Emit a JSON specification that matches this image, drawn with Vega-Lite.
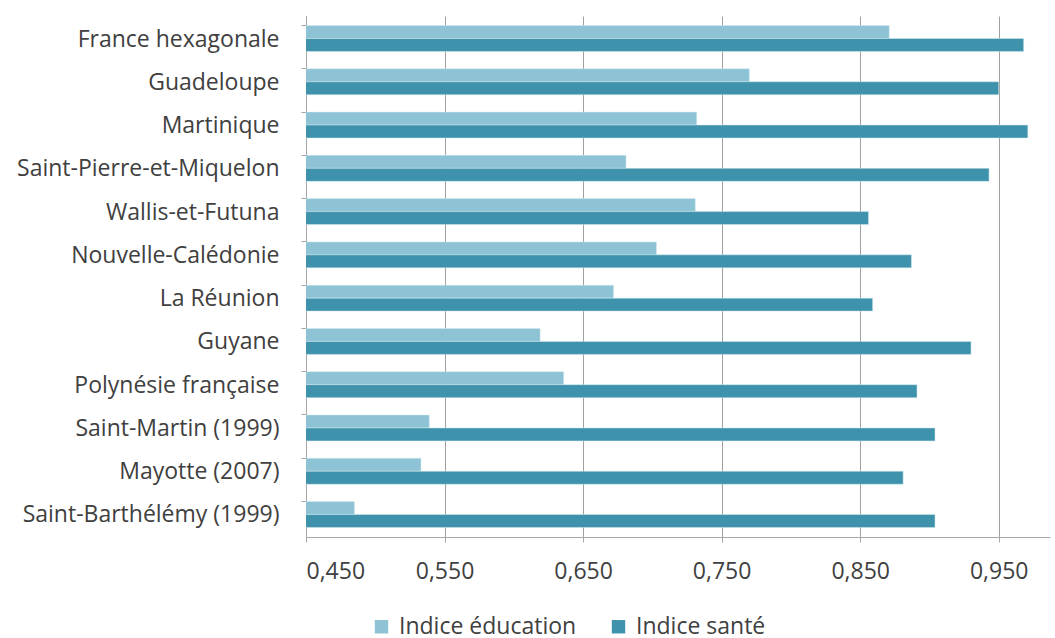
{
  "$schema": "https://vega.github.io/schema/vega-lite/v6.json",
  "width": 744,
  "height": 521,
  "autosize": {"type": "none"},
  "padding": {"left": 306, "top": 16, "right": 5, "bottom": 101},
  "background": "white",
  "config": {
    "locale": {"number": {"decimal": ",", "thousands": " ", "grouping": [3], "currency": ["", " €"]}},
    "view": {"stroke": null},
    "font": "Open Sans"
  },
  "data": {
    "values": [
      {"territoire": "France hexagonale", "indice": "Indice éducation", "valeur": 0.871},
      {"territoire": "France hexagonale", "indice": "Indice santé", "valeur": 0.968},
      {"territoire": "Guadeloupe", "indice": "Indice éducation", "valeur": 0.770},
      {"territoire": "Guadeloupe", "indice": "Indice santé", "valeur": 0.950},
      {"territoire": "Martinique", "indice": "Indice éducation", "valeur": 0.732},
      {"territoire": "Martinique", "indice": "Indice santé", "valeur": 0.971},
      {"territoire": "Saint-Pierre-et-Miquelon", "indice": "Indice éducation", "valeur": 0.681},
      {"territoire": "Saint-Pierre-et-Miquelon", "indice": "Indice santé", "valeur": 0.943},
      {"territoire": "Wallis-et-Futuna", "indice": "Indice éducation", "valeur": 0.731},
      {"territoire": "Wallis-et-Futuna", "indice": "Indice santé", "valeur": 0.856},
      {"territoire": "Nouvelle-Calédonie", "indice": "Indice éducation", "valeur": 0.703},
      {"territoire": "Nouvelle-Calédonie", "indice": "Indice santé", "valeur": 0.887},
      {"territoire": "La Réunion", "indice": "Indice éducation", "valeur": 0.672},
      {"territoire": "La Réunion", "indice": "Indice santé", "valeur": 0.859},
      {"territoire": "Guyane", "indice": "Indice éducation", "valeur": 0.619},
      {"territoire": "Guyane", "indice": "Indice santé", "valeur": 0.930},
      {"territoire": "Polynésie française", "indice": "Indice éducation", "valeur": 0.636},
      {"territoire": "Polynésie française", "indice": "Indice santé", "valeur": 0.891},
      {"territoire": "Saint-Martin (1999)", "indice": "Indice éducation", "valeur": 0.539},
      {"territoire": "Saint-Martin (1999)", "indice": "Indice santé", "valeur": 0.904},
      {"territoire": "Mayotte (2007)", "indice": "Indice éducation", "valeur": 0.533},
      {"territoire": "Mayotte (2007)", "indice": "Indice santé", "valeur": 0.881},
      {"territoire": "Saint-Barthélémy (1999)", "indice": "Indice éducation", "valeur": 0.485},
      {"territoire": "Saint-Barthélémy (1999)", "indice": "Indice santé", "valeur": 0.904}
    ]
  },
  "mark": {"type": "bar", "clip": true, "stroke": "#d4eaf1", "strokeWidth": 0.5},
  "encoding": {
    "y": {
      "field": "territoire",
      "type": "nominal",
      "sort": null,
      "title": null,
      "scale": {"paddingInner": 0.4, "paddingOuter": 0.22},
      "axis": {
        "bandPosition": 0,
        "domainColor": "#a6a6a6",
        "tickColor": "#a6a6a6",
        "tickSize": 5,
        "labelFontSize": 23,
        "labelColor": "#404040",
        "labelPadding": 22,
        "labelLimit": 400,
        "labelOffset": 1,
        "grid": false
      }
    },
    "yOffset": {
      "field": "indice",
      "type": "nominal",
      "sort": ["Indice éducation", "Indice santé"]
    },
    "x": {
      "field": "valeur",
      "type": "quantitative",
      "title": null,
      "scale": {"domain": [0.45, 0.987], "nice": false, "zero": false},
      "axis": {
        "values": [0.45, 0.55, 0.65, 0.75, 0.85, 0.95],
        "format": ".3f",
        "grid": true,
        "gridColor": "#a0a0a0",
        "gridWidth": 1,
        "domainColor": "#a6a6a6",
        "tickColor": "#a6a6a6",
        "tickSize": 5,
        "labelFontSize": 23,
        "labelColor": "#404040",
        "labelPadding": 18
      }
    },
    "color": {
      "field": "indice",
      "type": "nominal",
      "scale": {"domain": ["Indice éducation", "Indice santé"], "range": ["#8dc3d5", "#3f92ab"]},
      "legend": {
        "title": null,
        "orient": "none",
        "direction": "horizontal",
        "legendX": 64,
        "legendY": 599,
        "symbolType": "square",
        "symbolSize": 180,
        "symbolStrokeWidth": 0,
        "labelFontSize": 23,
        "labelLimit": 400,
        "labelColor": "#404040",
        "columnPadding": 30,
        "labelOffset": 6
      }
    }
  }
}
